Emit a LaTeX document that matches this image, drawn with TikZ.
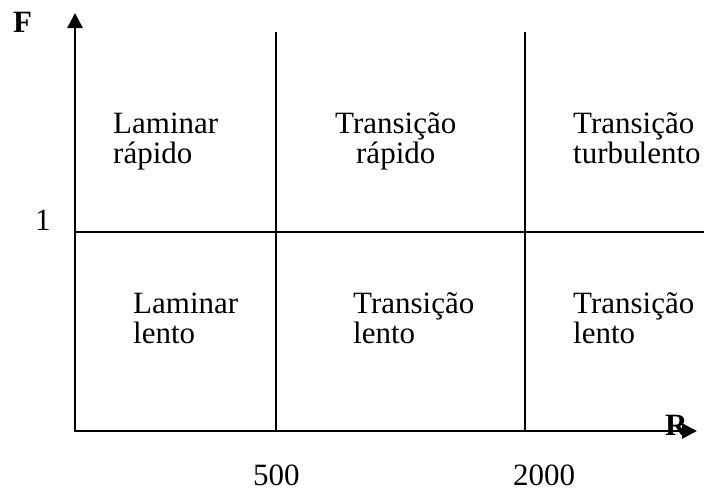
\documentclass[tikz,border=0pt]{standalone}
\usepackage{fontspec}
\setmainfont{Liberation Serif}
\usetikzlibrary{arrows.meta}
\tikzset{%
    axis/.style={line width=2.6pt,-{Triangle[length=15pt,width=15pt]}},
    grid/.style={line width=1.3pt},
    region/.style={anchor=base west,align=left,inner sep=0pt,font=\fontsize{31}{30}\selectfont},
    lbl/.style={anchor=base west,inner sep=0pt,font=\fontsize{31}{30}\selectfont}
}

\begin{document}
\begin{tikzpicture}[x=1pt,y=-1pt]
        \useasboundingbox (0,0) rectangle (704,491);
        \coordinate (o) at (75,431);
        \coordinate (ytop) at (75,13);
        \coordinate (xend) at (697,431);
        \coordinate (gapa) at (75,253);
        \coordinate (gapb) at (75,191);
        \coordinate (h0) at (75,232);
        \coordinate (h1) at (704,232);
        \coordinate (v1a) at (276,32);
        \coordinate (v1b) at (276,431);
        \coordinate (v2a) at (525,32);
        \coordinate (v2b) at (525,431);
        \node[lbl,font=\fontsize{31}{30}\selectfont\bfseries] (R) at (665,435){R};
        \draw[grid] (v1a) -- (v1b);
        \draw[grid] (v2a) -- (v2b);
        \draw[grid] (h0) -- (h1);
        \draw[grid] (gapa) -- (gapb);
        \draw[line width=2.6pt] (o) -- (gapa);
        \draw[axis] (gapb) -- (ytop);
        \draw[axis] ([xshift=-1.3pt]o) -- (xend);
        \node[lbl,font=\fontsize{31}{30}\selectfont\bfseries] (F) at (13,32){F};
        \node[lbl] (one) at (35,230){1};
        \node[lbl] (c500) at (253,485){500};
        \node[lbl] (c2000) at (513,485){2000};
        % base anchor sits on the last line
        \node[region] (lr) at (113,163){Laminar\\rápido};
        \node[region,align=center] (tr) at (335,163){Transição\\rápido};
        \node[region] (tt) at (573,163){Transição\\turbulento};
        \node[region] (ll) at (133,343){Laminar\\lento};
        \node[region] (tl) at (353,343){Transição\\lento};
        \node[region] (tl2) at (573,343){Transição\\lento};
    \end{tikzpicture}
\end{document}
